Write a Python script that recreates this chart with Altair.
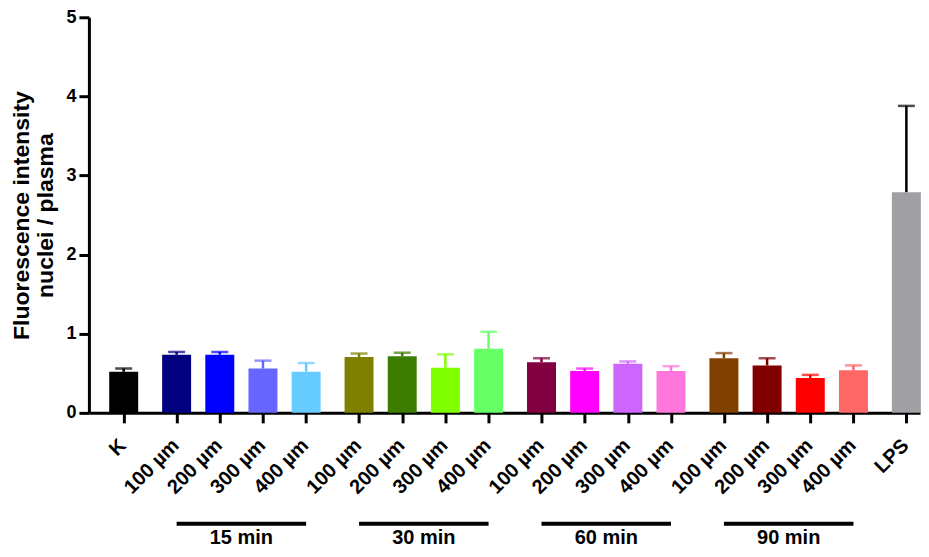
import altair as alt
import pandas as pd

labels = ["K",
          "100 µm", "200 µm", "300 µm", "400 µm",
          "100 µm", "200 µm", "300 µm", "400 µm",
          "100 µm", "200 µm", "300 µm", "400 µm",
          "100 µm", "200 µm", "300 µm", "400 µm",
          "LPS"]
group_idx = [0, 1, 1, 1, 1, 2, 2, 2, 2, 3, 3, 3, 3, 4, 4, 4, 4, 5]
values = [0.52, 0.735, 0.735, 0.56, 0.52,
          0.705, 0.715, 0.57, 0.81,
          0.64, 0.53, 0.62, 0.53,
          0.69, 0.60, 0.44, 0.54,
          2.79]
errors = [0.04, 0.035, 0.035, 0.10, 0.11,
          0.045, 0.045, 0.17, 0.215,
          0.05, 0.03, 0.03, 0.06,
          0.065, 0.09, 0.04, 0.06,
          1.09]
bar_colors = ["#000000",
              "#000080", "#0000FF", "#6666FF", "#66CCFF",
              "#808000", "#3C7D00", "#80FF00", "#66FF66",
              "#800040", "#FF00FF", "#CC66FF", "#FF77DD",
              "#804000", "#800000", "#FF0000", "#FF6666",
              "#A0A0A4"]
err_colors = bar_colors[:-1] + ["#000000"]
group_names = ["15 min", "30 min", "60 min", "90 min"]

GAP = 0.226
pos = [i + GAP * g for i, g in enumerate(group_idx)]

df = pd.DataFrame({
    "label": labels,
    "pos": pos,
    "value": values,
    "upper": [v + e for v, e in zip(values, errors)],
    "color": bar_colors,
    "ecolor": err_colors,
})

grp_rows = []
for k, name in enumerate(group_names):
    ps = [p for p, g in zip(pos, group_idx) if g == k + 1]
    grp_rows.append({"name": name, "start": min(ps), "end": max(ps), "mid": (min(ps) + max(ps)) / 2})
gdf = pd.DataFrame(grp_rows)

FONT = "Liberation Sans"
xscale = alt.Scale(domain=[-0.69, 18.33], nice=False, zero=False)
yscale = alt.Scale(domain=[0, 5], nice=False)

x_enc = alt.X("pos:Q", scale=xscale,
              axis=alt.Axis(values=pos, labels=False, title=None, grid=False,
                            ticks=True, tickSize=10, tickWidth=3, tickColor="black",
                            domainWidth=3, domainColor="black"))
y_enc = alt.Y("value:Q", scale=yscale,
              axis=alt.Axis(values=[0, 1, 2, 3, 4, 5], format="d", grid=False,
                            title=["Fluorescence intensity", "nuclei / plasma"],
                            titleFont=FONT, titleFontSize=23, titleFontWeight="bold",
                            titleColor="black", titleLineHeight=24, titlePadding=8,
                            labelFont=FONT, labelFontSize=18, labelFontWeight="bold",
                            labelColor="black", labelPadding=3,
                            tickSize=10, tickWidth=3, tickColor="black",
                            domainWidth=3, domainColor="black"))

base = alt.Chart(df)

bars = base.mark_bar(size=29).encode(
    x=x_enc, y=y_enc, color=alt.Color("color:N", scale=None)
)
err = base.mark_rule(strokeWidth=2.5).encode(
    x="pos:Q", y="value:Q", y2="upper:Q", color=alt.Color("ecolor:N", scale=None)
)
caps = base.mark_tick(orient="horizontal", size=17, thickness=2.5).encode(
    x="pos:Q", y="upper:Q", color=alt.Color("ecolor:N", scale=None)
)
xlabels = base.mark_text(angle=315, align="right", baseline="middle", dx=-1,
                         font=FONT, fontSize=20, fontWeight="bold", color="black").encode(
    x="pos:Q", y=alt.value(425), text="label:N"
)
glines = alt.Chart(gdf).mark_rule(strokeWidth=4, color="black").encode(
    x="start:Q", x2="end:Q", y=alt.value(507)
)
gtext = alt.Chart(gdf).mark_text(baseline="middle", align="center",
                                 font=FONT, fontSize=20, fontWeight="bold", color="black").encode(
    x="mid:Q", y=alt.value(521), text="name:N"
)

chart = alt.layer(bars, err, caps, xlabels, glines, gtext).properties(
    width=832, height=396,
    padding={"left": 2, "top": 0, "right": 0, "bottom": 0},
    background="white"
).configure_view(stroke=None)

chart.save("out.html", embed_options={"renderer": "svg", "actions": False})
